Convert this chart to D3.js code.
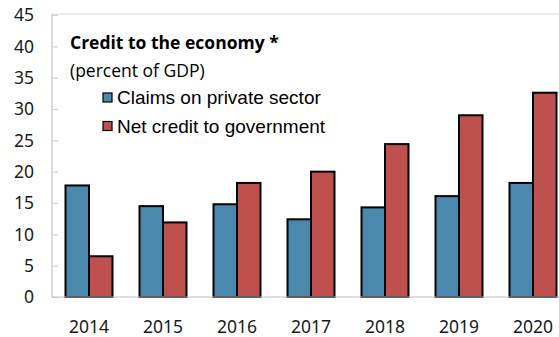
<!DOCTYPE html>
<html>
<head>
<meta charset="utf-8">
<script src="https://cdn.jsdelivr.net/npm/d3@7"></script>
<style>
  html, body { margin: 0; padding: 0; background: #fff; }
  svg { display: block; }
</style>
</head>
<body>
<svg id="chart" width="559" height="337"></svg>
<script>
// Credit to the economy, percent of GDP
const years = ["2014", "2015", "2016", "2017", "2018", "2019", "2020"];
const claimsPrivate = [17.8, 14.5, 14.8, 12.4, 14.3, 16.1, 18.2];
const netCreditGov = [6.5, 11.9, 18.2, 20.0, 24.4, 29.0, 32.6];
const seriesNames = ["Claims on private sector", "Net credit to government"];
const seriesColors = ["#4a89ad", "#c0504d"];
const yTicks = [0, 5, 10, 15, 20, 25, 30, 35, 40, 45];

const svg = d3.select("#chart");
const plotLeft = 52, plotRight = 570, plotTop = 15, plotBottom = 297;

const x = d3.scaleBand().domain(years).range([plotLeft, plotRight]).paddingInner(0.365).paddingOuter(0.1825);
const xs = d3.scaleBand().domain([0, 1]).range([0, x.bandwidth()]);
const y = d3.scaleLinear().domain([0, 45]).range([plotBottom, plotTop]);

// frame: top border and left/bottom axes
svg.append("line").attr("x1", plotLeft).attr("x2", 559).attr("y1", plotTop - 1).attr("y2", plotTop - 1)
  .attr("stroke", "#d9d9d9").attr("stroke-width", 1.2);

const yAxis = svg.append("g").attr("transform", `translate(${plotLeft},0)`)
  .call(d3.axisRight(y).tickValues(yTicks).tickSize(6).tickFormat(""));
yAxis.select(".domain").attr("stroke", "#d0d0d0").attr("stroke-width", 1.5)
  .attr("d", `M0,${plotTop - 1}V${plotBottom}`);
yAxis.selectAll(".tick line").attr("stroke", "#d0d0d0").attr("stroke-width", 1.2);

svg.append("g").selectAll("text").data(yTicks).join("text")
  .attr("x", 34).attr("y", d => y(d)).attr("dy", "0.36em")
  .attr("text-anchor", "end")
  .attr("font-family", "'Noto Sans', 'Open Sans', sans-serif")
  .attr("font-size", 17.5).attr("fill", "#1a1a1a")
  .text(d => d);

// bars
const groups = svg.append("g").selectAll("g").data(years).join("g")
  .attr("transform", d => `translate(${x(d)},0)`);
groups.selectAll("rect").data((d, i) => [claimsPrivate[i], netCreditGov[i]]).join("rect")
  .attr("x", (d, j) => xs(j))
  .attr("width", xs.bandwidth())
  .attr("y", d => y(d))
  .attr("height", d => y(0) - y(d))
  .attr("fill", (d, j) => seriesColors[j])
  .attr("stroke", "#000").attr("stroke-width", 2);

// baseline
svg.append("line").attr("x1", plotLeft).attr("x2", 559).attr("y1", plotBottom).attr("y2", plotBottom)
  .attr("stroke", "#bfbfbf").attr("stroke-width", 1.2);

// year labels
const xAxis = svg.append("g").attr("transform", `translate(0,${plotBottom})`)
  .call(d3.axisBottom(x).tickSize(0).tickPadding(0));
xAxis.select(".domain").remove();
xAxis.selectAll("text").attr("y", 36).attr("dy", 0)
  .attr("font-family", "'Noto Sans', 'Open Sans', sans-serif")
  .attr("font-size", 17.5).attr("fill", "#1a1a1a");

// title and legend
svg.append("text").attr("x", 70).attr("y", 49)
  .attr("font-family", "'Open Sans', 'Noto Sans', sans-serif")
  .attr("font-weight", "bold").attr("font-size", 17.5).attr("fill", "#000")
  .text("Credit to the economy *");
svg.append("text").attr("x", 70).attr("y", 77)
  .attr("font-family", "'Open Sans', 'Noto Sans', sans-serif")
  .attr("font-size", 17.5).attr("fill", "#000")
  .text("(percent of GDP)");

const legend = svg.append("g").selectAll("g").data(seriesNames).join("g")
  .attr("transform", (d, i) => `translate(103,${93 + i * 28.5})`);
legend.append("rect").attr("width", 9).attr("height", 9)
  .attr("fill", (d, i) => seriesColors[i]).attr("stroke", "#000").attr("stroke-width", 1.2);
legend.append("text").attr("x", 14).attr("y", 11)
  .attr("font-family", "'Liberation Sans', Arial, sans-serif")
  .attr("font-size", 19).attr("fill", "#000")
  .text(d => d);
</script>
</body>
</html>
